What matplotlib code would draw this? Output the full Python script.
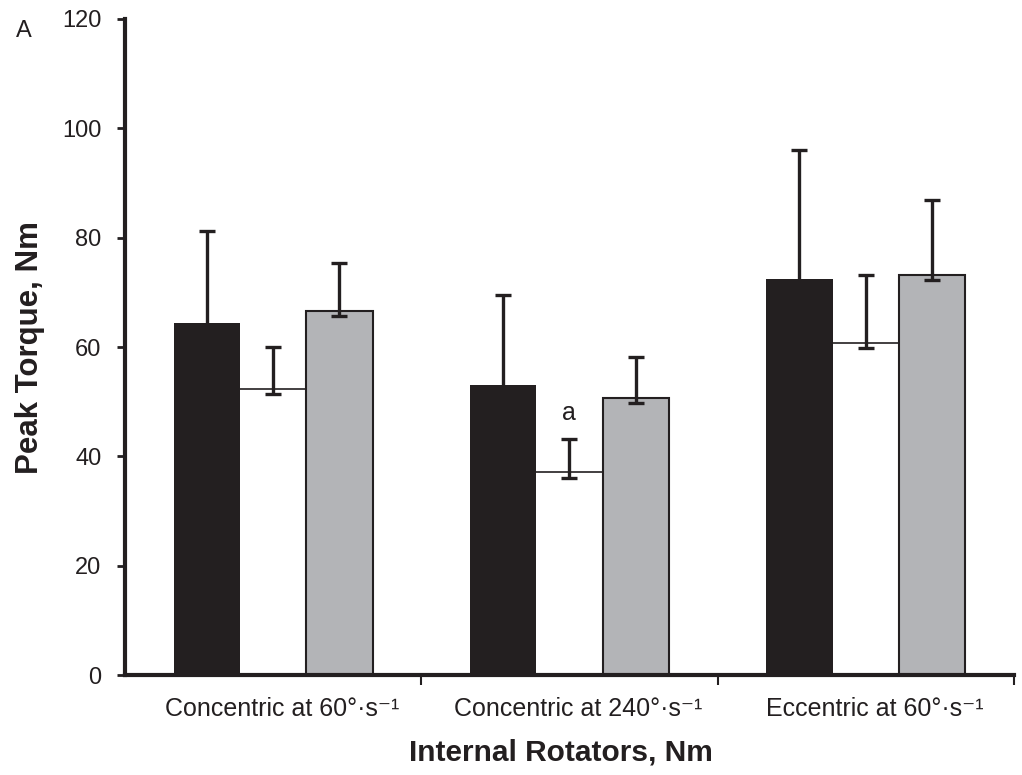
import numpy as np
import matplotlib
matplotlib.use("Agg")
import matplotlib.pyplot as plt
from matplotlib.ticker import FixedLocator

plt.rcParams['font.family'] = ['Liberation Sans', 'DejaVu Sans']

##################################
# Data
categories = ["Concentric at 60°·s⁻¹",
              "Concentric at 240°·s⁻¹",
              "Eccentric at 60°·s⁻¹"]

black_mean = [64.4, 53.0, 72.5]
black_err = [16.8, 16.5, 23.5]
white_mean = [52.4, 37.1, 60.8]
white_err = [7.6, 6.1, 12.4]
grey_mean = [66.6, 50.7, 73.2]
grey_err = [8.8, 7.4, 13.6]
low_err = [1.0, 1.0, 1.0]

sig_labels = ["", "a", ""]

##################################
# Plot
dark = "#231f20"
grey = "#b3b4b7"
width = 0.224
label_nudge = 0.03   # category labels sit slightly right of the group centre

fig = plt.figure(figsize=(10.22, 7.75), dpi=100)
ax = fig.add_axes([0.1223, 0.129, 0.8697, 0.8465])

x = np.arange(len(categories))
series = [(black_mean, black_err, dark, 0.0, -width),
          (white_mean, white_err, "white", 0.0, 0.0),
          (grey_mean, grey_err, grey, 1.5, width)]

for mean, err, col, lw, off in series:
    ax.bar(x + off, mean, width, color=col, edgecolor=dark, linewidth=lw, zorder=2)

# white bar: only the top edge shows
for i, m in enumerate(white_mean):
    ax.hlines(m, x[i] - width / 2, x[i] + width / 2, color=dark, lw=1.2, zorder=3)

for mean, err, col, lw, off in series:
    ax.errorbar(x + off, mean, yerr=[low_err, err], fmt="none", ecolor=dark,
                elinewidth=2.4, capsize=6, capthick=2.4, zorder=4)

for i, s in enumerate(sig_labels):
    if s:
        ax.annotate(s, (x[i], white_mean[i] + white_err[i]), xytext=(0, 10),
                    textcoords="offset points", ha="center", va="bottom",
                    fontsize=18, color=dark)

ax.set_xlim(-0.5, len(categories) - 0.5)
ax.set_ylim(0, 120)
ax.set_yticks(np.arange(0, 121, 20))

ax.set_xticks(x + label_nudge)
ax.set_xticklabels(categories, fontsize=18, color=dark)
ax.xaxis.set_minor_locator(FixedLocator(np.arange(0.5, len(categories), 1.0)))
ax.tick_params(axis="x", which="major", length=0, pad=16)
ax.tick_params(axis="x", which="minor", length=7, width=1.5, color=dark, direction="out")
ax.tick_params(axis="y", length=6, width=2.0, color=dark, labelsize=17,
               labelcolor=dark, pad=11)

for side in ["top", "right"]:
    ax.spines[side].set_visible(False)
for side in ["left", "bottom"]:
    ax.spines[side].set_linewidth(3)
    ax.spines[side].set_color(dark)

ax.set_xlabel("Internal Rotators, Nm", fontsize=21.5, fontweight="bold",
              color=dark, labelpad=12)
ax.xaxis.set_label_coords(0.4905, -0.096)
ax.set_ylabel("Peak Torque, Nm", fontsize=22.5, fontweight="bold",
              color=dark, labelpad=12)

fig.text(0.0235, 0.96, "A", fontsize=17, color=dark, ha="center", va="center")

fig.savefig("out.png", dpi=100)
